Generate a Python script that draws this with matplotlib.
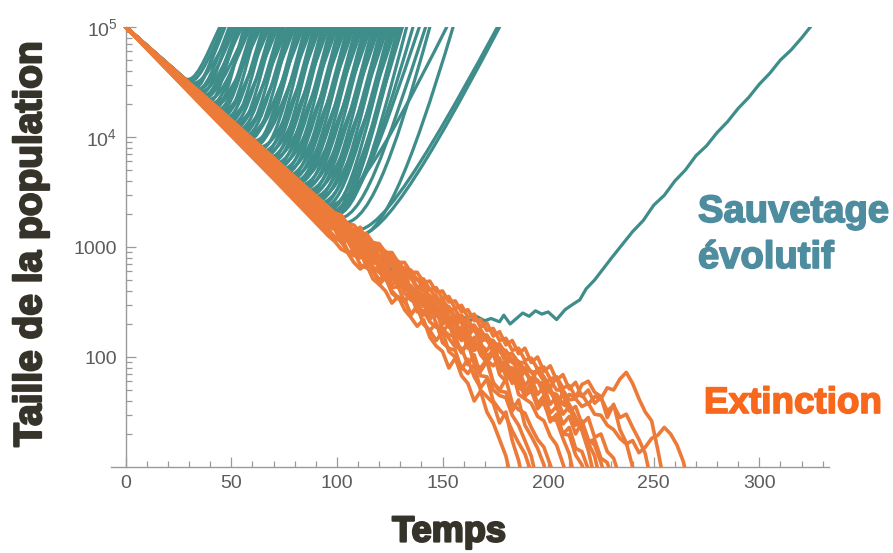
import numpy as np
import matplotlib
matplotlib.use("Agg")
import matplotlib.pyplot as plt
from matplotlib.path import Path
from matplotlib.patches import PathPatch
import matplotlib.patheffects as pe
from matplotlib.ticker import FixedLocator, MultipleLocator, LogLocator, NullFormatter

# ---------------- data ----------------
x_ticks = [0, 50, 100, 150, 200, 250, 300]
x_tick_labels = ["0", "50", "100", "150", "200", "250", "300"]
y_ticks = [100, 1000, 1e4, 1e5]
y_tick_labels = ["100", "1000", r"$\mathregular{10^4}$", r"$\mathregular{10^5}$"]

# rescued trajectories: (t0, log10N0, t1, log10N1, t2, log10N2, t_top);
# they leave the common decline at t0 and reach 1e5 at t_top (Bezier key points)
teal_rescue = [
    (28, 4.531, 32.95, 4.481, 37.08, 4.695, 44.5),
    (31, 4.476, 35.8, 4.426, 39.8, 4.659, 47),
    (33, 4.440, 37.8, 4.390, 41.8, 4.636, 49),
    (30, 4.495, 36.3, 4.445, 41.55, 4.672, 51),
    (36, 4.385, 41.1, 4.335, 45.35, 4.600, 53),
    (34, 4.422, 40.3, 4.372, 45.55, 4.624, 55),
    (40, 4.313, 45.1, 4.263, 49.35, 4.553, 57),
    (38, 4.349, 44.3, 4.299, 49.55, 4.577, 59),
    (44, 4.240, 49.1, 4.190, 53.35, 4.506, 61),
    (41, 4.295, 47.6, 4.245, 53.1, 4.542, 63),
    (47, 4.185, 52.4, 4.135, 56.9, 4.470, 65),
    (45, 4.222, 51.6, 4.172, 57.1, 4.494, 67),
    (50, 4.131, 55.7, 4.081, 60.45, 4.435, 69),
    (48, 4.167, 54.9, 4.117, 60.65, 4.459, 71),
    (53, 4.076, 59.0, 4.026, 64.0, 4.399, 73),
    (51, 4.113, 58.2, 4.063, 64.2, 4.423, 75),
    (56, 4.022, 62.3, 3.972, 67.55, 4.364, 77),
    (54, 4.058, 61.5, 4.008, 67.75, 4.388, 79),
    (60, 3.949, 66.3, 3.899, 71.55, 4.317, 81),
    (57, 4.004, 64.8, 3.954, 71.3, 4.353, 83),
    (63, 3.895, 69.6, 3.845, 75.1, 4.282, 85),
    (60, 3.949, 68.1, 3.899, 74.85, 4.317, 87),
    (66, 3.840, 72.9, 3.790, 78.65, 4.246, 89),
    (64, 3.876, 72.1, 3.826, 78.85, 4.269, 91),
    (69, 3.785, 76.2, 3.735, 82.2, 4.210, 93),
    (67, 3.822, 75.4, 3.772, 82.4, 4.234, 95),
    (72, 3.731, 79.5, 3.681, 85.75, 4.175, 97),
    (70, 3.767, 78.7, 3.717, 85.95, 4.199, 99),
    (75, 3.676, 82.8, 3.626, 89.3, 4.139, 101),
    (73, 3.713, 82.0, 3.663, 89.5, 4.163, 103),
    (78, 3.622, 86.1, 3.572, 92.85, 4.104, 105),
    (76, 3.658, 85.3, 3.608, 93.05, 4.128, 107),
    (81, 3.587, 89.4, 3.537, 96.4, 4.082, 109),
    (79, 3.604, 88.6, 3.554, 96.6, 4.093, 111),
    (84, 3.533, 92.7, 3.483, 99.95, 4.046, 113),
    (82, 3.569, 91.9, 3.519, 100.15, 4.070, 115),
    (87, 3.478, 96.0, 3.428, 103.5, 4.011, 117),
    (85, 3.515, 95.2, 3.465, 103.7, 4.035, 119),
    (90, 3.424, 99.3, 3.374, 107.05, 3.976, 121),
    (88, 3.460, 98.5, 3.410, 107.25, 3.999, 123),
    (93, 3.369, 102.6, 3.319, 110.6, 3.940, 125),
    (91, 3.405, 101.8, 3.355, 110.8, 3.963, 127),
    (96, 3.315, 105.9, 3.265, 114.15, 3.905, 129),
    (94, 3.351, 105.1, 3.301, 114.35, 3.928, 131),
    (29, 4.513, 34.1, 4.463, 38.35, 4.683, 46),
    (32, 4.458, 36.05, 4.408, 39.4, 4.648, 45.5),
    (35, 4.404, 39.5, 4.354, 43.25, 4.613, 50),
    (33, 4.440, 38.7, 4.390, 43.45, 4.636, 52),
    (37, 4.367, 42.1, 4.317, 46.35, 4.589, 54),
    (39, 4.331, 43.05, 4.281, 46.4, 4.565, 52.5),
    (42, 4.276, 46.2, 4.226, 49.7, 4.529, 56),
    (36, 4.385, 42.6, 4.335, 48.1, 4.600, 58),
    (43, 4.258, 48.1, 4.208, 52.35, 4.518, 60),
    (46, 4.204, 50.8, 4.154, 54.8, 4.483, 62),
    (40, 4.313, 47.2, 4.263, 53.2, 4.553, 64),
    (49, 4.149, 54.1, 4.099, 58.35, 4.447, 66),
    (44, 4.240, 51.2, 4.190, 57.2, 4.506, 68),
    (52, 4.095, 57.4, 4.045, 61.9, 4.412, 70),
    (47, 4.185, 54.5, 4.135, 60.75, 4.470, 72),
    (55, 4.040, 60.7, 3.990, 65.45, 4.376, 74),
    (50, 4.131, 57.95, 4.081, 64.6, 4.435, 76.5),
    (58, 3.985, 64.0, 3.935, 69.0, 4.340, 78),
    (53, 4.076, 61.1, 4.026, 67.85, 4.399, 80),
    (61, 3.931, 67.3, 3.881, 72.55, 4.305, 82),
    (56, 4.022, 64.4, 3.972, 71.4, 4.364, 84),
    (65, 3.858, 71.3, 3.808, 76.55, 4.258, 86),
    (59, 3.967, 67.7, 3.917, 74.95, 4.329, 88),
    (68, 3.804, 74.6, 3.754, 80.1, 4.223, 90),
    (62, 3.913, 71.0, 3.863, 78.5, 4.293, 92),
    (71, 3.749, 77.9, 3.699, 83.65, 4.187, 94),
    (65, 3.858, 74.3, 3.808, 82.05, 4.258, 96),
    (74, 3.695, 81.2, 3.645, 87.2, 4.152, 98),
    (68, 3.804, 77.6, 3.754, 85.6, 4.223, 100),
    (77, 3.640, 84.5, 3.590, 90.75, 4.116, 102),
    (71, 3.749, 80.9, 3.699, 89.15, 4.187, 104),
    (80, 3.605, 87.8, 3.555, 94.3, 4.093, 106),
    (74, 3.695, 84.2, 3.645, 92.7, 4.152, 108),
    (83, 3.551, 91.1, 3.501, 97.85, 4.058, 110),
    (77, 3.640, 87.5, 3.590, 96.25, 4.116, 112),
    (86, 3.496, 94.4, 3.446, 101.4, 4.022, 114),
    (80, 3.605, 90.8, 3.555, 99.8, 4.093, 116),
    (89, 3.442, 97.7, 3.392, 104.95, 3.987, 118),
    (83, 3.551, 94.1, 3.501, 103.35, 4.058, 120),
    (92, 3.387, 101.0, 3.337, 108.5, 3.952, 122),
    (86, 3.496, 97.4, 3.446, 106.9, 4.022, 124),
    (95, 3.333, 104.3, 3.283, 112.05, 3.916, 126),
    (89, 3.442, 100.7, 3.392, 110.45, 3.987, 128),
    (97, 3.296, 106.9, 3.246, 115.15, 3.892, 130),
    (97, 3.296, 108.0, 3.220, 116.0, 3.750, 133),
    (95, 3.333, 107.0, 3.250, 118.0, 3.800, 136),
    (96, 3.315, 108.9, 3.265, 119.65, 3.905, 139),
    (99, 3.260, 111.9, 3.210, 122.65, 3.869, 142),
    (101, 3.224, 114.0, 3.150, 126.0, 3.750, 144),
    (92, 3.387, 104.0, 3.300, 118.0, 3.700, 152),
    (108, 3.100, 120.0, 3.030, 134.0, 3.650, 155),
    (100, 3.242, 113.0, 2.950, 128.0, 3.300, 176),
    (106, 3.133, 116.0, 3.000, 132.0, 3.350, 177),
]
rescue_start = (0, 5.0)
rescue_top = 5.0

# the one late rescue
late_t = [0, 100, 130, 145, 152, 155, 160, 163, 166, 170, 173, 177, 179, 182, 185,
          188, 191, 194, 197, 200, 204, 208, 211, 215, 218, 222, 226, 230, 235, 240,
          245, 250, 255, 260, 265, 270, 275, 280, 285, 290, 295, 300, 305, 310, 315,
          320, 325]
late_logN = [5.0, 3.26, 2.72, 2.48, 2.38, 2.34, 2.36, 2.33, 2.37, 2.33, 2.35, 2.32,
             2.38, 2.30, 2.35, 2.40, 2.37, 2.42, 2.39, 2.41, 2.34, 2.43, 2.47, 2.52,
             2.62, 2.70, 2.80, 2.90, 3.02, 3.14, 3.24, 3.38, 3.47, 3.60, 3.70, 3.83,
             3.92, 4.04, 4.14, 4.26, 4.36, 4.48, 4.58, 4.70, 4.79, 4.90, 5.02]

# extinct trajectories: log10 N at t = 0, 20, 40, 70, then every 3 from t = 96
ext_early_t = [0, 20, 40, 70]
ext_step_t0 = 96
ext_step_dt = 3
ext_early = [
    [5.0, 4.602, 4.206, 3.619],
    [5.0, 4.605, 4.211, 3.627],
    [5.0, 4.612, 4.226, 3.651],
    [5.0, 4.632, 4.266, 3.715],
    [5.0, 4.622, 4.246, 3.683],
    [5.0, 4.647, 4.296, 3.763],
    [5.0, 4.657, 4.316, 3.795],
    [5.0, 4.640, 4.281, 3.739],
    [5.0, 4.635, 4.271, 3.723],
    [5.0, 4.627, 4.256, 3.699],
    [5.0, 4.652, 4.306, 3.779],
    [5.0, 4.645, 4.291, 3.755],
    [5.0, 4.662, 4.326, 3.811],
    [5.0, 4.642, 4.286, 3.747],
    [5.0, 4.617, 4.236, 3.667],
    [5.0, 4.650, 4.301, 3.771],
    [5.0, 4.630, 4.261, 3.707],
    [5.0, 4.626, 4.253, 3.695],
    [5.0, 4.655, 4.311, 3.787],
]
ext_late = [
    [3.10, 3.05, 2.98, 2.95, 2.86, 2.80, 2.84, 2.71, 2.66, 2.60, 2.49, 2.55, 2.43, 2.36, 2.28,
     2.34, 2.18, 2.10, 2.05, 1.90, 1.99, 1.83, 1.76, 1.60, 1.69, 1.50, 1.40, 1.25, 1.10, 0.85],
    [3.13, 3.08, 3.05, 2.95, 2.96, 2.84, 2.81, 2.79, 2.66, 2.72, 2.58, 2.53, 2.51, 2.39, 2.46,
     2.30, 2.24, 2.31, 2.13, 2.08, 2.06, 1.89, 1.98, 1.82, 1.72, 1.80, 1.60, 1.52, 1.46, 1.33,
     1.22, 1.12, 0.95, 0.80],
    [3.16, 3.09, 3.09, 2.97, 2.92, 2.96, 2.82, 2.79, 2.70, 2.76, 2.60, 2.54, 2.53, 2.38, 2.46,
     2.30, 2.24, 2.15, 2.23, 2.05, 2.00, 1.91, 1.85, 1.93, 1.70, 1.64, 1.58, 1.40, 1.50, 1.24,
     1.06, 0.80],
    [3.26, 3.18, 3.19, 3.06, 3.05, 3.02, 2.89, 2.95, 2.80, 2.76, 2.75, 2.63, 2.71, 2.52, 2.48,
     2.49, 2.34, 2.43, 2.25, 2.20, 2.19, 2.04, 2.14, 1.97, 1.87, 1.96, 1.76, 1.69, 1.68, 1.51,
     1.61, 1.38, 1.28, 1.17, 1.02, 0.80],
    [3.20, 3.19, 3.07, 3.07, 3.01, 2.90, 2.96, 2.82, 2.78, 2.77, 2.65, 2.73, 2.58, 2.52, 2.51,
     2.38, 2.47, 2.30, 2.22, 2.31, 2.13, 2.04, 2.13, 1.94, 1.90, 1.98, 1.77, 1.70, 1.80, 1.58,
     1.52, 1.49, 1.36, 1.25, 1.18, 1.02, 0.85],
    [3.32, 3.24, 3.25, 3.13, 3.10, 3.09, 2.97, 3.02, 2.87, 2.84, 2.83, 2.70, 2.78, 2.61, 2.56,
     2.62, 2.44, 2.40, 2.47, 2.28, 2.25, 2.23, 2.08, 2.18, 2.02, 1.95, 2.04, 1.84, 1.78, 1.88,
     1.66, 1.62, 1.58, 1.46, 1.42, 1.28, 1.20, 1.03, 0.85],
    [3.36, 3.29, 3.29, 3.19, 3.14, 3.18, 3.04, 3.02, 3.00, 2.87, 2.93, 2.78, 2.75, 2.74, 2.61,
     2.69, 2.52, 2.48, 2.54, 2.36, 2.34, 2.31, 2.18, 2.27, 2.11, 2.06, 2.14, 1.95, 1.91, 1.90,
     1.77, 1.89, 1.76, 1.90, 1.82, 1.72, 1.82, 1.64, 1.57, 1.45, 1.33, 1.15, 0.90],
    [3.27, 3.21, 3.19, 3.10, 3.10, 3.01, 3.00, 2.91, 2.92, 2.78, 2.85, 2.69, 2.71, 2.60, 2.61,
     2.49, 2.56, 2.39, 2.41, 2.27, 2.36, 2.17, 2.21, 2.08, 2.11, 1.98, 2.07, 1.87, 1.90, 1.76,
     1.85, 1.65, 1.69, 1.56, 1.58, 1.44, 1.46, 1.30, 1.29, 1.11, 1.02, 0.80],
    [3.25, 3.23, 3.15, 3.13, 3.03, 3.07, 2.92, 2.96, 2.83, 2.84, 2.74, 2.75, 2.63, 2.65, 2.53,
     2.57, 2.41, 2.48, 2.30, 2.37, 2.21, 2.27, 2.12, 2.15, 2.03, 1.96, 2.04, 1.87, 1.89, 1.77,
     1.78, 1.64, 1.72, 1.53, 1.60, 1.41, 1.48, 1.30, 1.36, 1.17, 1.14, 0.98, 0.85],
    [3.22, 3.20, 3.10, 3.11, 3.00, 3.01, 2.90, 2.91, 2.81, 2.82, 2.70, 2.72, 2.61, 2.63, 2.49,
     2.55, 2.39, 2.46, 2.30, 2.33, 2.22, 2.15, 2.22, 2.06, 2.10, 1.97, 1.92, 1.99, 1.82, 1.86,
     1.72, 1.69, 1.76, 1.57, 1.65, 1.49, 1.55, 1.39, 1.46, 1.30, 1.41, 1.23, 1.25, 1.08, 1.04,
     0.85],
    [3.34, 3.30, 3.21, 3.21, 3.12, 3.12, 3.01, 3.03, 2.91, 2.93, 2.82, 2.84, 2.72, 2.73, 2.63,
     2.66, 2.52, 2.56, 2.42, 2.46, 2.32, 2.37, 2.23, 2.26, 2.14, 2.17, 2.04, 2.08, 1.94, 1.98,
     1.84, 1.90, 1.75, 1.79, 1.66, 1.72, 1.55, 1.68, 1.51, 1.55, 1.39, 1.45, 1.27, 1.30, 1.14,
     1.08, 0.90],
    [3.29, 3.27, 3.18, 3.19, 3.09, 3.10, 3.00, 3.01, 2.91, 2.91, 2.82, 2.81, 2.73, 2.72, 2.63,
     2.62, 2.54, 2.52, 2.46, 2.42, 2.37, 2.33, 2.28, 2.24, 2.18, 2.15, 2.09, 2.05, 2.00, 1.95,
     1.92, 1.86, 1.80, 1.78, 1.70, 1.68, 1.60, 1.58, 1.66, 1.63, 1.75, 1.78, 1.68, 1.64, 1.45,
     1.57, 1.34, 1.22, 1.00, 0.80],
    [3.36, 3.31, 3.29, 3.21, 3.20, 3.13, 3.12, 3.04, 3.03, 2.95, 2.95, 2.86, 2.86, 2.77, 2.77,
     2.68, 2.69, 2.59, 2.60, 2.50, 2.51, 2.41, 2.43, 2.33, 2.34, 2.24, 2.26, 2.15, 2.17, 2.06,
     2.08, 1.97, 1.99, 1.89, 1.91, 1.80, 1.82, 1.72, 1.74, 1.64, 1.66, 1.57, 1.64, 1.62, 1.72,
     1.70, 1.80, 1.86, 1.76, 1.62, 1.50, 1.42, 1.15, 0.85],
    [3.28, 3.26, 3.17, 3.17, 3.09, 3.08, 3.00, 2.99, 2.91, 2.90, 2.82, 2.81, 2.72, 2.73, 2.63,
     2.63, 2.54, 2.55, 2.46, 2.45, 2.37, 2.38, 2.28, 2.29, 2.20, 2.20, 2.11, 2.12, 2.03, 2.03,
     1.95, 1.95, 1.86, 1.87, 1.78, 1.79, 1.70, 1.70, 1.61, 1.62, 1.55, 1.58, 1.48, 1.47, 1.38,
     1.34, 1.26, 1.21, 1.24, 1.13, 1.18, 1.26, 1.29, 1.36, 1.30, 1.20, 1.05, 0.80],
    [3.18, 3.16, 3.04, 3.06, 2.95, 2.93, 2.88, 2.81, 2.77, 2.71, 2.63, 2.64, 2.50, 2.57, 2.41,
     2.42, 2.32, 2.27, 2.26, 2.17, 2.09, 2.08, 1.93, 2.02, 1.83, 1.82, 1.70, 1.65, 1.63, 1.47,
     1.38, 1.24, 1.10, 0.85],
    [3.31, 3.26, 3.25, 3.16, 3.16, 3.07, 3.08, 2.97, 2.99, 2.88, 2.91, 2.79, 2.81, 2.71, 2.71,
     2.62, 2.62, 2.53, 2.52, 2.44, 2.43, 2.34, 2.34, 2.25, 2.25, 2.16, 2.15, 2.07, 2.06, 1.97,
     1.96, 1.88, 1.87, 1.77, 1.76, 1.68, 1.66, 1.57, 1.54, 1.43, 1.38, 1.22, 1.10, 0.85],
    [3.23, 3.20, 3.13, 3.11, 3.04, 3.01, 2.95, 2.91, 2.86, 2.81, 2.77, 2.71, 2.68, 2.61, 2.59,
     2.51, 2.50, 2.41, 2.40, 2.31, 2.31, 2.21, 2.22, 2.11, 2.12, 2.01, 2.02, 1.91, 1.92, 1.81,
     1.82, 1.70, 1.71, 1.58, 1.59, 1.44, 1.42, 1.26, 1.12, 0.85],
    [3.21, 3.17, 3.12, 3.06, 3.03, 2.96, 2.94, 2.86, 2.84, 2.76, 2.74, 2.66, 2.64, 2.56, 2.55,
     2.46, 2.46, 2.37, 2.38, 2.28, 2.30, 2.19, 2.22, 2.10, 2.13, 2.01, 2.05, 1.92, 1.97, 1.83,
     1.89, 1.74, 1.81, 1.66, 1.73, 1.57, 1.64, 1.48, 1.55, 1.38, 1.42, 1.25, 1.20, 1.04, 0.85],
    [3.33, 3.30, 3.24, 3.21, 3.15, 3.13, 3.06, 3.04, 2.97, 2.96, 2.88, 2.87, 2.79, 2.79, 2.70,
     2.71, 2.61, 2.63, 2.53, 2.55, 2.44, 2.47, 2.36, 2.39, 2.27, 2.31, 2.19, 2.23, 2.11, 2.15,
     2.03, 2.08, 1.95, 2.00, 1.87, 1.92, 1.79, 1.84, 1.71, 1.77, 1.64, 1.70, 1.58, 1.63, 1.51,
     1.56, 1.45, 1.48, 1.36, 1.25, 1.12, 0.85],
]

# ---------------- style ----------------
TEAL = "#3f8d8b"
ORANGE = "#ec7a38"
BLUE_TXT = "#4e8ca0"
ORANGE_TXT = "#f7681c"
DARK = "#35332a"
AXIS = "#9a9a9a"
TICKLBL = "#5c5c5c"
LW_T = 2.3
LW_O = 2.6

fig = plt.figure(figsize=(8.93, 5.53), dpi=100)
ax = fig.add_axes([111 / 893, 1 - 467 / 553, (829 - 111) / 893, (467 - 27) / 553])
ax.set_yscale("log")
ax.set_xlim(-7, 333)
ax.set_ylim(10, 1e5)

# rescued (teal) trajectories
for row in teal_rescue:
    t0, l0, t1, l1, t2, l2, t3 = row
    verts = [(rescue_start[0], 10 ** rescue_start[1]), (t0, 10 ** l0), (t1, 10 ** l1),
             (t2, 10 ** l2), (t3, 10 ** rescue_top)]
    codes = [Path.MOVETO, Path.LINETO, Path.CURVE4, Path.CURVE4, Path.CURVE4]
    ax.add_patch(PathPatch(Path(verts, codes), fill=False, edgecolor=TEAL, lw=LW_T,
                           capstyle="round", joinstyle="round", zorder=2))

ax.plot(late_t, 10 ** np.array(late_logN), color=TEAL, lw=LW_T, zorder=2.5,
        solid_joinstyle="round")

# extinct (orange) trajectories
for early, late in zip(ext_early, ext_late):
    tt = list(ext_early_t) + [ext_step_t0 + ext_step_dt * i for i in range(len(late))]
    ll = list(early) + list(late)
    ax.plot(tt, 10 ** np.array(ll), color=ORANGE, lw=LW_O, zorder=3,
            solid_joinstyle="round")

# axes styling
for s in ["top", "right"]:
    ax.spines[s].set_visible(False)
ax.spines["left"].set_position(("data", 0))
for s in ["left", "bottom"]:
    ax.spines[s].set_color(AXIS)
    ax.spines[s].set_linewidth(1.0)

ax.xaxis.set_major_locator(FixedLocator(x_ticks))
ax.set_xticklabels(x_tick_labels)
ax.xaxis.set_minor_locator(MultipleLocator(10))
ax.yaxis.set_major_locator(FixedLocator(y_ticks))
ax.set_yticklabels(y_tick_labels)
ax.yaxis.set_minor_locator(LogLocator(base=10, subs=np.arange(2, 10)))
ax.yaxis.set_minor_formatter(NullFormatter())

ax.tick_params(which="both", direction="in", color=AXIS, width=0.9)
ax.tick_params(which="major", length=7, labelsize=14, labelcolor=TICKLBL, pad=6)
ax.tick_params(which="minor", length=4)
for lab in ax.get_xticklabels() + ax.get_yticklabels():
    lab.set_fontfamily(["Liberation Sans", "DejaVu Sans"])

FAM = ["Liberation Sans", "DejaVu Sans"]
fig.text(449 / 893, 1 - 532 / 553, "Temps", ha="center", va="center", fontsize=26,
         fontweight="bold", color=DARK, family=FAM,
         path_effects=[pe.withStroke(linewidth=1.6, foreground=DARK)])
fig.text(31 / 893, 1 - 244 / 553, "Taille de la population", ha="center", va="center",
         rotation=90, fontsize=28, fontweight="bold", color=DARK, family=FAM,
         path_effects=[pe.withStroke(linewidth=1.6, foreground=DARK)])
fig.text(698 / 893, 1 - 222 / 553, "Sauvetage", ha="left", va="baseline", fontsize=27.5,
         fontweight="bold", color=BLUE_TXT, family=FAM,
         path_effects=[pe.withStroke(linewidth=1.2, foreground=BLUE_TXT)])
fig.text(698 / 893, 1 - 268 / 553, "évolutif", ha="left", va="baseline", fontsize=27.5,
         fontweight="bold", color=BLUE_TXT, family=FAM,
         path_effects=[pe.withStroke(linewidth=1.2, foreground=BLUE_TXT)])
fig.text(704 / 893, 1 - 413 / 553, "Extinction", ha="left", va="baseline", fontsize=26.5,
         fontweight="bold", color=ORANGE_TXT, family=FAM,
         path_effects=[pe.withStroke(linewidth=1.2, foreground=ORANGE_TXT)])

fig.savefig("out.png", dpi=100)
